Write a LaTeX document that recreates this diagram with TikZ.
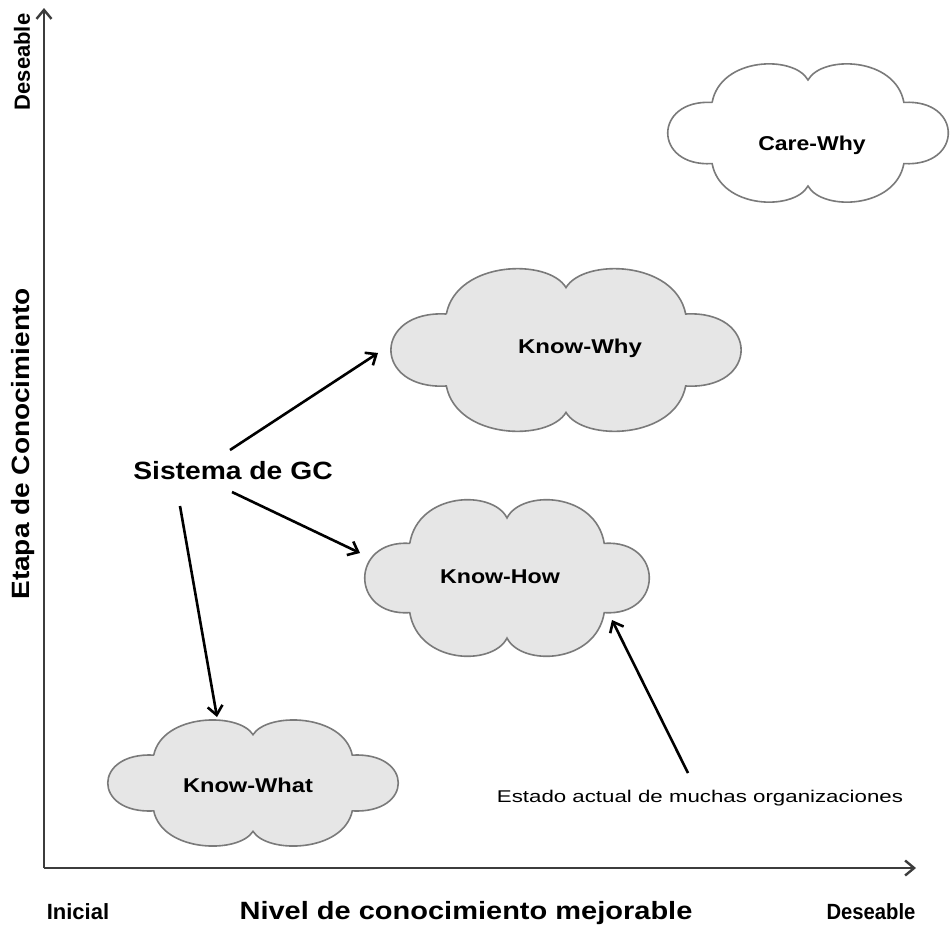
\documentclass[tikz,border=0pt]{standalone}
\usepackage{fontspec}
\usepackage{graphicx}
\setmainfont{Liberation Sans}
\usetikzlibrary{arrows.meta}
\definecolor{cloudedge}{HTML}{7A7A7A}
\definecolor{cloudfill}{HTML}{E6E6E6}
\definecolor{axisgray}{HTML}{3C3C3C}
% horizontally stretched label text
\newcommand\widetext[2]{\scalebox{#1}[1]{#2}}
\begin{document}
\begin{tikzpicture}[x=1pt,y=-1pt,
  cloudbody/.style={draw=cloudedge,line width=1.6pt,fill=cloudfill},
  pics/puff/.style={code={
    \path[cloudbody,#1]
      (-0.68,-0.45) .. controls (-0.62,-1.12) and (-0.1,-1.15) .. (0,-0.78)
      .. controls (0.1,-1.15) and (0.62,-1.12) .. (0.68,-0.45)
      .. controls (1.1,-0.5) and (1.1,0.5) .. (0.68,0.45)
      .. controls (0.62,1.12) and (0.1,1.15) .. (0,0.78)
      .. controls (-0.1,1.15) and (-0.62,1.12) .. (-0.68,0.45)
      .. controls (-1.1,0.5) and (-1.1,-0.5) .. cycle;
  }},
  cloudtext/.style={font=\bfseries\fontsize{20}{24}\selectfont,inner sep=0pt},
  axistext/.style={font=\bfseries\fontsize{22}{26}\selectfont,inner sep=0pt},
  bigtext/.style={font=\bfseries\fontsize{25}{30}\selectfont,inner sep=0pt},
  notetext/.style={font=\fontsize{17}{20}\selectfont,inner sep=0pt},
  axisline/.style={draw=axisgray,line width=2.4pt,
    -{Straight Barb[length=9pt,width=15pt]}},
  link/.style={draw=black,line width=2.6pt,
    -{Straight Barb[length=9pt,width=15pt]}}]

\useasboundingbox[fill=white] (0,0) rectangle (951,935);

% axes
\coordinate (origin) at (44,868);
\coordinate (ytip) at (44,8);
\coordinate (xtip) at (916,868);
\draw[axisline] (origin) -- (ytip);
\draw[axisline] (origin) -- (xtip);

% clouds
\pic[xscale=141,yscale=68] at (808,133) {puff={fill=white}};
\pic[xscale=176,yscale=80] at (566,350) {puff};
\pic[xscale=143,yscale=77] at (507,578) {puff};
\pic[xscale=146,yscale=62] at (253,783) {puff};

\node[cloudtext] (carewhy) at (812,145) {\widetext{1.15}{Care-Why}};
\node[cloudtext] (knowwhy) at (580,348) {\widetext{1.2}{Know-Why}};
\node[cloudtext] (knowhow) at (500,577) {\widetext{1.16}{Know-How}};
\node[cloudtext] (knowwhat) at (248,785) {\widetext{1.18}{Know-What}};

% central label and its links
\node[bigtext] (sistema) at (233,471) {\widetext{1.13}{Sistema de GC}};
\coordinate (whyend) at (378,353);
\coordinate (howend) at (360,553);
\coordinate (whatend) at (217,717);
\draw[link] (230,450) -- (whyend);
\draw[link] (232,492) -- (howend);
\draw[link] (180,506) -- (whatend);

% note on current state
\node[notetext] (estado) at (700,798) {\widetext{1.31}{Estado actual de muchas organizaciones}};
\coordinate (estadotip) at (612,620);
\draw[link] (688,773) -- (estadotip);

% axis labels
\node[axistext,rotate=90] (ydes) at (22,62) {Deseable};
\node[bigtext,rotate=90] (ylabel) at (23,444) {\widetext{1.12}{Etapa de Conocimiento}};
\node[axistext] (xini) at (78,912) {Inicial};
\node[axistext] (xdes) at (871,912) {\widetext{0.92}{Deseable}};
\node[bigtext] (xlabel) at (466,913) {\widetext{1.16}{Nivel de conocimiento mejorable}};
\end{tikzpicture}
\end{document}
